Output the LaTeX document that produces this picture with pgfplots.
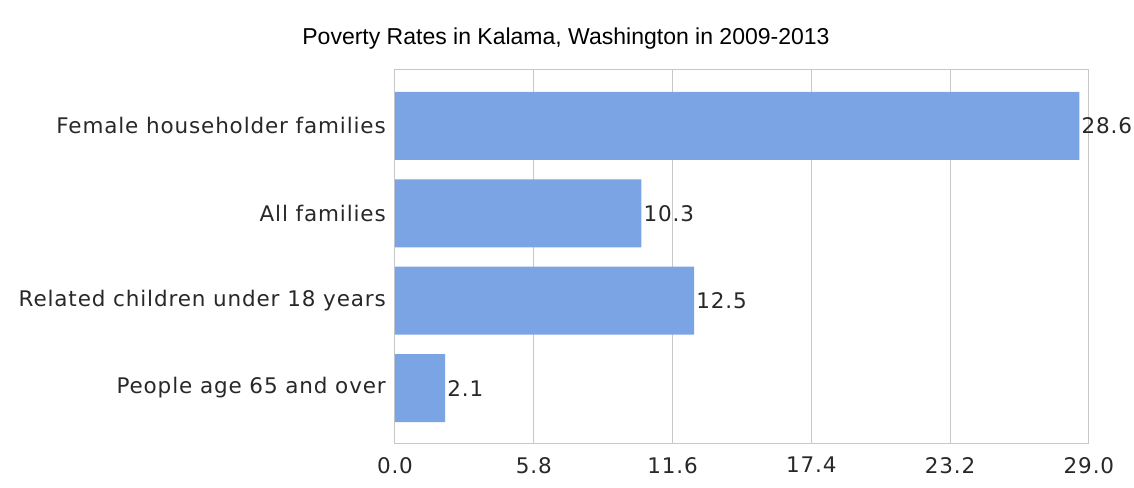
\documentclass[border=0pt]{standalone}
\usepackage{pgfplots}
\pgfplotsset{compat=1.18}
\usepackage{fontspec}
\setmainfont{Liberation Sans}
\newfontfamily\lblfont[LetterSpace=4]{DejaVu Sans}
\definecolor{barblue}{RGB}{122,164,228}
\definecolor{gridgray}{RGB}{200,200,200}
\definecolor{txt}{RGB}{40,40,40}
\begin{document}
\begin{tikzpicture}
  \begin{axis}[
      name=ax,
      xbar,
      bar width=68pt,
      scale only axis,
      width=694pt,
      height=374pt,
      xmin=0, xmax=29,
      ymin=-0.64, ymax=3.64,
      xtick={0,5.8,11.6,17.4,23.2,29},
      xticklabels={0.0,5.8,11.6,17.4,23.2,29.0},
      ytick={0,1,2,3},
      yticklabels={People age 65 and over,Related children under 18 years,All families,Female householder families},
      xmajorgrids,
      grid style={gridgray, line width=1pt},
      axis line style={gridgray, line width=1pt},
      major tick length=0pt,
      tick label style={font=\lblfont\fontsize{21.5}{25}\selectfont, text=txt},
      yticklabel style={inner sep=0pt, xshift=-9pt},
      xticklabel style={inner sep=0pt, yshift=-13pt},
      nodes near coords,
      point meta=explicit symbolic,
      every node near coord/.append style={font=\lblfont\fontsize{21.5}{25}\selectfont, text=txt, anchor=west, inner sep=2pt},
    ]
    \addplot[fill=barblue, draw=none] coordinates {
      (2.1,0) [2.1]
      (12.5,1) [12.5]
      (10.3,2) [10.3]
      (28.6,3) [28.6]
    };
  \end{axis}
  \node[font=\fontsize{23}{28}\selectfont, text=black] at ([xshift=-176pt,yshift=31pt]ax.north) {Poverty Rates in Kalama, Washington in 2009-2013};
  \path (ax.south west) ++(-395pt,-44pt);
  \path (ax.north east) ++(45pt,70pt);
\end{tikzpicture}
\end{document}
